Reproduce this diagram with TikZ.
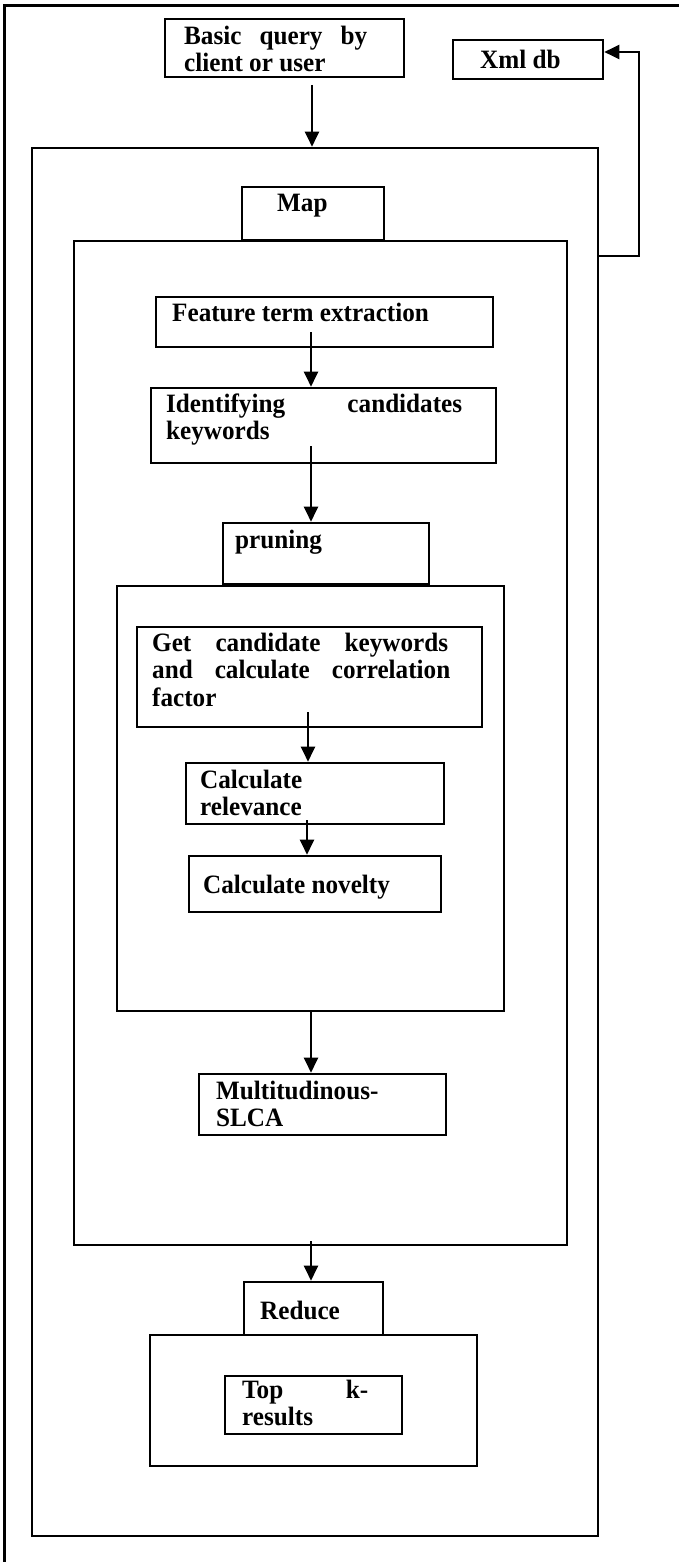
\documentclass[tikz,border=0pt]{standalone}
\usepackage{fontspec}
\setmainfont[FakeStretch=0.95]{Liberation Serif}
\usetikzlibrary{arrows.meta}
\begin{document}
\begin{tikzpicture}[x=1pt,y=-1pt,
  box/.style={draw, line width=2.6pt, inner sep=0pt},
  lbl/.style={font=\bfseries\fontsize{26.5}{27.5}\selectfont, align=left, inner sep=0pt, anchor=base west},
  arr/.style={line width=2.2pt, -{Triangle[length=15pt,width=14pt]}},
]
\useasboundingbox (0,0) rectangle (679,1562);
% open outer frame
\draw[line width=3pt] (4,1562) -- (4,6) -- (679,6);

% containers
\node[box, minimum width=566pt, minimum height=1388pt] (outer) at (315,842) {};
\node[box, minimum width=493pt, minimum height=1004pt] (inner) at (320.5,743) {};
\node[box, minimum width=387pt, minimum height=425pt] (prunC) at (310.5,798.5) {};
\node[box, minimum width=327pt, minimum height=131pt] (redC) at (313.5,1400.5) {};

% boxes
\node[box, minimum width=239pt, minimum height=58pt] (query) at (284.5,48) {};
\node[box, minimum width=150pt, minimum height=39pt] (xml) at (528,59.5) {};
\node[box, minimum width=142pt, minimum height=53pt] (map) at (313,213.5) {};
\node[box, minimum width=337pt, minimum height=50pt] (feat) at (324.5,322) {};
\node[box, minimum width=345pt, minimum height=75pt] (ident) at (323.5,425.5) {};
\node[box, minimum width=206pt, minimum height=61pt] (prun) at (326,553.5) {};
\node[box, minimum width=345pt, minimum height=100pt] (get) at (309.5,677) {};
\node[box, minimum width=258pt, minimum height=61pt] (rel) at (315,793.5) {};
\node[box, minimum width=252pt, minimum height=56pt] (nov) at (315,884) {};
\node[box, minimum width=247pt, minimum height=61pt] (multi) at (322.5,1104.5) {};
\node[box, minimum width=139pt, minimum height=53pt] (red) at (313.5,1308.5) {};
\node[box, minimum width=177pt, minimum height=58pt] (topk) at (313.5,1405) {};

% texts (anchor = baseline of the last line)
\node[lbl] (tquery) at (184,72) {\makebox[183pt][s]{Basic query by}\\client or user};
\node[lbl] (txml) at (480,69) {Xml db};
\node[lbl] (tmap) at (277,212) {Map};
\node[lbl] (tfeat) at (172,321) {Feature term extraction};
\node[lbl] (tident) at (166,439.5) {\makebox[296pt][s]{Identifying candidates}\\keywords};
\node[lbl] (tprun) at (235,548) {pruning};
\node[lbl] (tget) at (152,706) {\makebox[296pt][s]{Get candidate keywords}\\\makebox[298pt][s]{and calculate correlation}\\factor};
\node[lbl] (trel) at (200,815.5) {Calculate\\relevance};
\node[lbl] (tnov) at (203,893) {Calculate novelty};
\node[lbl] (tmulti) at (216,1126.5) {Multitudinous-\\SLCA};
\node[lbl] (tred) at (260,1319) {Reduce};
\node[lbl] (ttopk) at (242,1425.5) {\makebox[126pt][s]{Top k-}\\results};

% connectors
\coordinate (s0) at (312,85);
\draw[arr] (s0) -- (s0 |- outer.north);
\coordinate (s1) at (311,332);
\draw[arr] (s1) -- (s1 |- ident.north);
\coordinate (s2) at (311,446);
\draw[arr] (s2) -- (s2 |- prun.north);
\coordinate (s3) at (308,712);
\draw[arr] (s3) -- (s3 |- rel.north);
\coordinate (s4) at (307,820);
\draw[arr] (s4) -- (s4 |- nov.north);
\coordinate (s5) at (311,1011);
\draw[arr] (s5 |- prunC.south) -- (s5 |- multi.north);
\coordinate (s6) at (311,1241);
\draw[arr] (s6) -- (s6 |- red.north);
\coordinate (f0) at (598,256);
\coordinate (f1) at (639,256);
\coordinate (f2) at (639,52);
\draw[arr] (f0 -| outer.east) -- (f1) -- (f2) -- (f2 -| xml.east);
\end{tikzpicture}
\end{document}
